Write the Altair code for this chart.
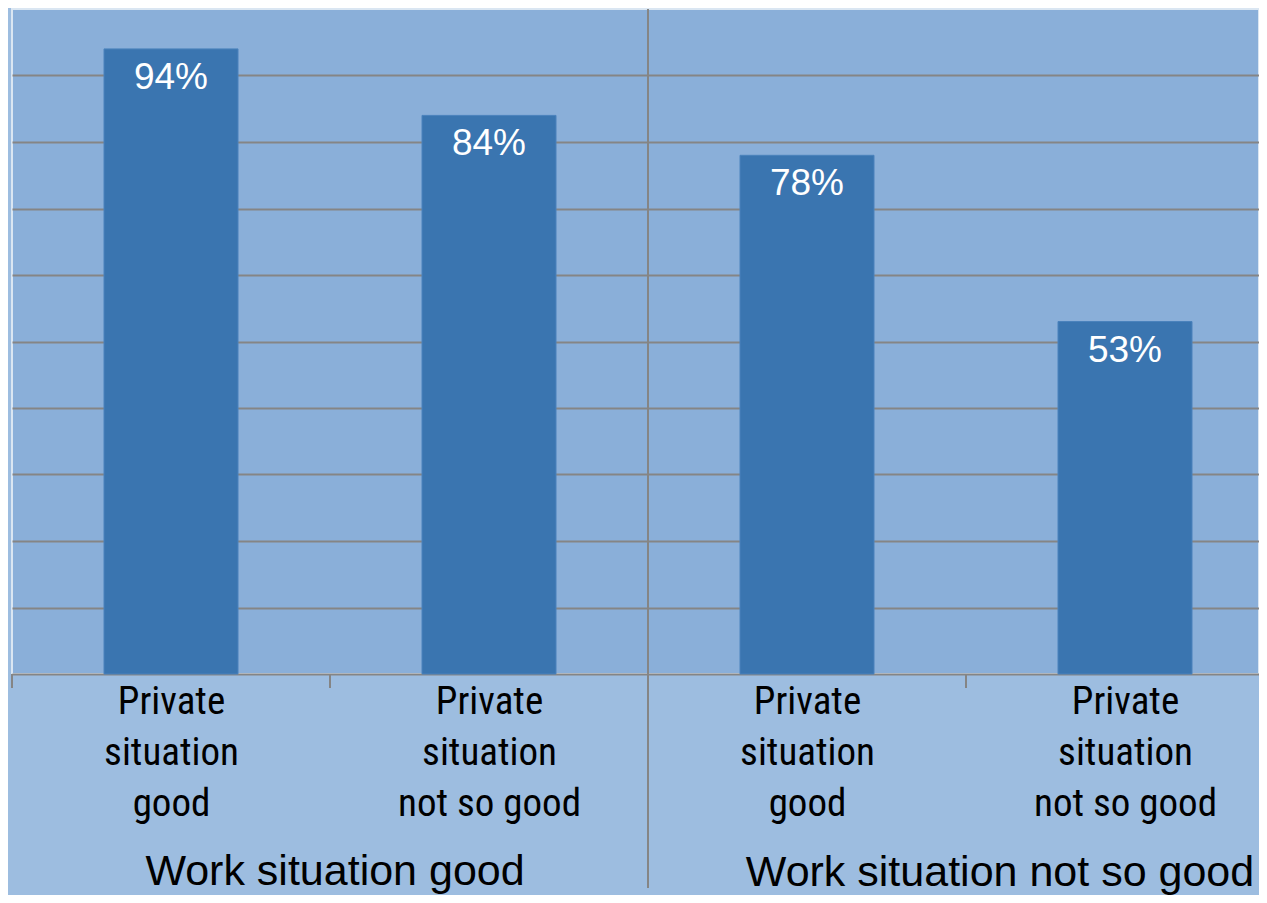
import json
import altair as alt
import pandas as pd

# ---- data ----
categories = [
    "Private|situation|good",
    "Private|situation|not so good",
    "Private|situation|good",
    "Private|situation|not so good",
]
values = [94, 84, 78, 53]
value_labels = ["94%", "84%", "78%", "53%"]
groups = ["Work situation good", "Work situation not so good"]

# ---- derived tables ----
slots = [i + 0.5 for i in range(len(values))]
bars = pd.DataFrame({"slot": slots, "value": values, "label": value_labels})
short_ticks = pd.DataFrame({"b": [0, 1, 3]})
separator = pd.DataFrame({"b": [2]})
g1 = pd.DataFrame({"pos": [1.0], "name": [groups[0]]})
g2 = pd.DataFrame({"pos": [3.0], "name": [groups[1]]})

W, H = 1247, 665
x_end = W / 318.0

GRAY = "#858585"
BAR = "#3a75b0"

label_expr = "split(" + json.dumps(categories) + "[floor(datum.value)], '|')"

x_scale = alt.Scale(domain=[0, x_end], nice=False, zero=False, padding=0)
y_scale = alt.Scale(domain=[0, 100], nice=False)

x_axis = alt.Axis(
    values=slots,
    labelExpr=label_expr,
    ticks=False,
    grid=False,
    domain=True,
    domainColor=GRAY,
    domainWidth=2,
    labelFont="Roboto Condensed, Liberation Sans",
    labelFontSize=39,
    labelLineHeight=51,
    labelColor="black",
    labelPadding=8,
    labelBaseline="top",
    labelFlush=False,
    labelOverlap=False,
    labelBound=False,
    labelLimit=0,
    title=None,
)
y_axis = alt.Axis(
    values=[10, 20, 30, 40, 50, 60, 70, 80, 90],
    grid=True,
    gridColor=GRAY,
    gridWidth=2,
    labels=False,
    ticks=False,
    domain=False,
    title=None,
)

bar_layer = alt.Chart(bars).mark_bar(
    width=134, color=BAR, stroke="#4a82bc", strokeWidth=1
).encode(
    x=alt.X("slot:Q", scale=x_scale, axis=x_axis),
    y=alt.Y("value:Q", scale=y_scale, axis=y_axis),
)

text_layer = alt.Chart(bars).mark_text(
    color="white", font="Liberation Sans", fontSize=37, baseline="middle", dy=29
).encode(
    x=alt.X("slot:Q", scale=x_scale),
    y=alt.Y("value:Q", scale=y_scale),
    text="label:N",
)

tick_layer = alt.Chart(short_ticks).mark_rule(color=GRAY, strokeWidth=2).encode(
    x=alt.X("b:Q", scale=x_scale),
    y=alt.value(H),
    y2=alt.value(H + 14),
)

sep_layer = alt.Chart(separator).mark_rule(color=GRAY, strokeWidth=2).encode(
    x=alt.X("b:Q", scale=x_scale),
    y=alt.value(0),
    y2=alt.value(H + 214),
)

g1_layer = alt.Chart(g1).mark_text(
    font="Liberation Sans", fontSize=43, color="black", baseline="alphabetic", dx=5
).encode(x=alt.X("pos:Q", scale=x_scale), y=alt.value(876), text="name:N")

g2_layer = alt.Chart(g2).mark_text(
    font="Liberation Sans", fontSize=43, color="black", baseline="alphabetic", dx=34
).encode(x=alt.X("pos:Q", scale=x_scale), y=alt.value(877), text="name:N")

chart = (
    alt.layer(bar_layer, text_layer, tick_layer, sep_layer, g1_layer, g2_layer)
    .properties(
        width=W,
        height=H,
        autosize=alt.AutoSizeParams(type="none"),
        padding={"left": 4, "top": 1, "right": 0, "bottom": 221},
        background="#9dbde0",
    )
    .configure_view(fill="#8aafd9", stroke="#dae6f2", strokeWidth=2)
)

chart.save("out.html", embed_options={"renderer": "svg", "actions": False})
